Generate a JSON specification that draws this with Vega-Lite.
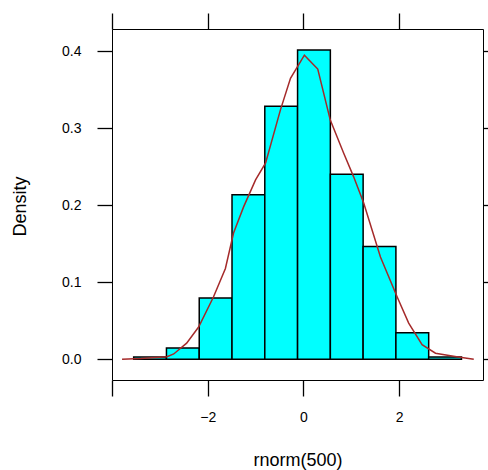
{
  "$schema": "https://vega.github.io/schema/vega-lite/v6.json",
  "autosize": "none",
  "width": 371,
  "height": 351,
  "padding": {"left": 112, "top": 29, "right": 5, "bottom": 90},
  "background": "white",
  "config": {
    "view": {"stroke": "black", "strokeWidth": 1},
    "font": "Liberation Sans",
    "axis": {
      "domain": false,
      "grid": false,
      "tickColor": "black",
      "tickWidth": 1.3,
      "labelColor": "black",
      "titleColor": "black",
      "labelFont": "Liberation Sans",
      "titleFont": "Liberation Sans",
      "labelFontSize": 14,
      "titleFontSize": 18,
      "titleFontWeight": "normal"
    }
  },
  "datasets": {
    "bins": [
      {"lo": -3.547, "hi": -2.862, "density": 0.003},
      {"lo": -2.862, "hi": -2.177, "density": 0.0146},
      {"lo": -2.177, "hi": -1.492, "density": 0.0797},
      {"lo": -1.492, "hi": -0.807, "density": 0.2139},
      {"lo": -0.807, "hi": -0.122, "density": 0.3287},
      {"lo": -0.122, "hi": 0.563, "density": 0.4018},
      {"lo": 0.563, "hi": 1.248, "density": 0.2404},
      {"lo": 1.248, "hi": 1.933, "density": 0.1464},
      {"lo": 1.933, "hi": 2.618, "density": 0.0347},
      {"lo": 2.618, "hi": 3.303, "density": 0.003}
    ],
    "curve": [
      {"x": -3.79, "d": 0.0},
      {"x": -3.4, "d": 0.001},
      {"x": -2.85, "d": 0.0035},
      {"x": -2.71, "d": 0.007},
      {"x": -2.44, "d": 0.021},
      {"x": -2.19, "d": 0.042},
      {"x": -1.88, "d": 0.081},
      {"x": -1.63, "d": 0.118},
      {"x": -1.46, "d": 0.164},
      {"x": -1.25, "d": 0.198},
      {"x": -1.0, "d": 0.233},
      {"x": -0.79, "d": 0.255},
      {"x": -0.48, "d": 0.324},
      {"x": -0.27, "d": 0.365},
      {"x": 0.02, "d": 0.395},
      {"x": 0.30, "d": 0.377},
      {"x": 0.56, "d": 0.311},
      {"x": 0.84, "d": 0.268},
      {"x": 1.05, "d": 0.237},
      {"x": 1.26, "d": 0.203},
      {"x": 1.61, "d": 0.133},
      {"x": 1.96, "d": 0.081},
      {"x": 2.20, "d": 0.047},
      {"x": 2.48, "d": 0.019},
      {"x": 2.76, "d": 0.008},
      {"x": 3.2, "d": 0.0035},
      {"x": 3.56, "d": 0.0}
    ]
  },
  "layer": [
    {
      "data": {"name": "bins"},
      "mark": {"type": "rect", "fill": "#00FFFF", "stroke": "black", "strokeWidth": 1.5},
      "encoding": {
        "x": {
          "field": "lo", "type": "quantitative",
          "scale": {"domain": [-4.0, 3.753], "nice": false, "zero": false},
          "axis": {
            "orient": "bottom",
            "title": "rnorm(500)",
            "values": [-4, -2, 0, 2],
            "labelExpr": "datum.value == -4 ? '' : datum.label",
            "tickSize": 16,
            "labelPadding": 14,
            "titleBaseline": "middle",
            "titleY": 80
          }
        },
        "x2": {"field": "hi"},
        "y": {
          "field": "density", "type": "quantitative",
          "scale": {"domain": [-0.0268, 0.429], "nice": false, "zero": false},
          "axis": {
            "orient": "left",
            "title": "Density",
            "values": [0, 0.1, 0.2, 0.3, 0.4],
            "format": ".1f",
            "tickSize": 15,
            "labelPadding": 16,
            "titleAngle": -90,
            "titleBaseline": "middle",
            "titleX": -92,
            "titleY": 177
          }
        },
        "y2": {"datum": 0}
      }
    },
    {
      "data": {"name": "curve"},
      "mark": {"type": "line", "color": "#A52A2A", "strokeWidth": 1.5},
      "encoding": {
        "x": {
          "field": "x", "type": "quantitative",
          "axis": {"orient": "top", "title": null, "values": [-4, -2, 0, 2], "labels": false, "tickSize": 16}
        },
        "y": {
          "field": "d", "type": "quantitative",
          "axis": {"orient": "right", "title": null, "values": [0, 0.1, 0.2, 0.3, 0.4], "labels": false, "tickSize": 15}
        }
      }
    }
  ],
  "resolve": {"axis": {"x": "independent", "y": "independent"}}
}
